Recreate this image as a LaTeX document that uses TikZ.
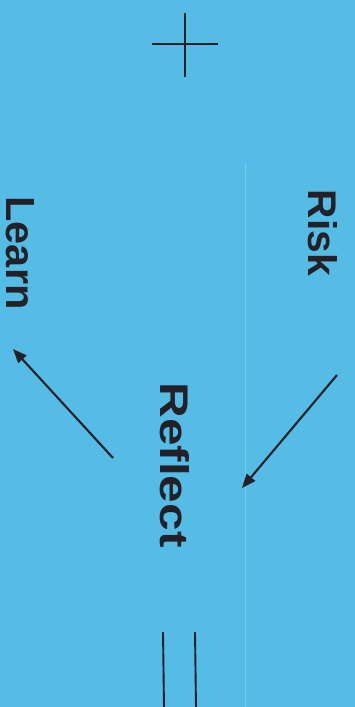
\documentclass[tikz,border=0pt]{standalone}
\usepackage{fontspec}
\setmainfont{Liberation Sans}
\usetikzlibrary{arrows.meta}
\definecolor{paper}{RGB}{84,188,229}
\definecolor{ink}{RGB}{36,32,40}
\definecolor{fold}{RGB}{120,202,236}
\begin{document}
\begin{tikzpicture}[x=1pt,y=-1pt,
  word/.style={rotate=-90,inner sep=0pt,text=ink,font=\bfseries},
  flow/.style={draw=ink,line width=2.1pt,-{Triangle[length=14pt,width=11pt]}},
  tick/.style={draw=ink,line width=1.9pt}]
\fill[paper] (0,0) rectangle (355,707);
\useasboundingbox (0,0) rectangle (355,707);
\draw[fold,line width=0.7pt] (245,163) -- (245,707);
% words
\node[word] (risk) at (323,233) {\resizebox{86pt}{29pt}{Risk}};
\node[word] (reflect) at (175,465) {\resizebox{165pt}{29pt}{Reflect}};
\node[word] (learn) at (20,253) {\resizebox{113pt}{28pt}{Learn}};
% arrows
\coordinate (a1s) at (337,375);
\coordinate (a1e) at (242,488);
\coordinate (a2s) at (113,458);
\coordinate (a2e) at (13,349);
\draw[flow] (a1s) -- (a1e);
\draw[flow] (a2s) -- (a2e);
% cross
\coordinate (cv1) at (185,13);
\coordinate (cv2) at (185,77);
\coordinate (ch1) at (152,44);
\coordinate (ch2) at (218,44);
\draw[tick] (cv1) -- (cv2);
\draw[tick] (ch1) -- (ch2);
% bars
\coordinate (b1s) at (163,632);
\coordinate (b1e) at (164,707);
\coordinate (b2s) at (195,632);
\coordinate (b2e) at (196,707);
\draw[tick] (b1s) -- (b1e);
\draw[tick] (b2s) -- (b2e);
\end{tikzpicture}
\end{document}
